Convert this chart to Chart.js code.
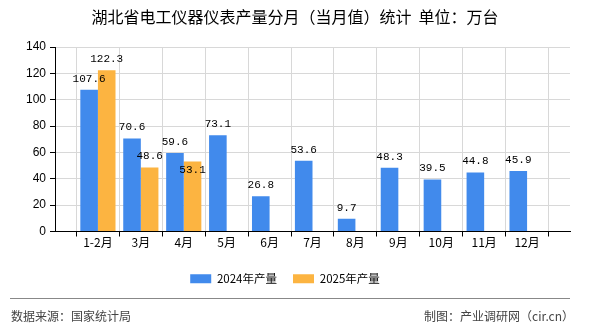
<!DOCTYPE html>
<html>
<head>
<meta charset="utf-8">
<script src="https://cdn.jsdelivr.net/npm/chart.js@4/dist/chart.umd.min.js"></script>
<style>
  html, body { margin: 0; padding: 0; background: #fff; }
  #wrap { width: 590px; height: 330px; }
</style>
</head>
<body>
<div id="wrap"><canvas id="chart" width="590" height="330"></canvas></div>
<script>
// data
const months = ['1-2月', '3月', '4月', '5月', '6月', '7月', '8月', '9月', '10月', '11月', '12月'];
const output2024 = [107.6, 70.6, 59.6, 73.1, 26.8, 53.6, 9.7, 48.3, 39.5, 44.8, 45.9];
const output2025 = [122.3, 48.6, 53.1, null, null, null, null, null, null, null, null];
const yTicks = [0, 20, 40, 60, 80, 100, 120, 140];

const titleText = '湖北省电工仪器仪表产量分月（当月值）统计  单位：万台';
const sourceText = '数据来源：国家统计局';
const creditText = '制图：产业调研网（cir.cn）';

const CJK = '"Noto Sans CJK SC", sans-serif';
const LAT = '"Liberation Sans", "Noto Sans CJK SC", sans-serif';

// months sit on x = 1..11 of a 0..12 axis, like the reference
function toPoints(arr){
  return arr.map((y, i) => ({ x: i + 1, y: y }));
}

// title + footer
const frame = {
  id: 'frame',
  afterDraw(chart){
    const c = chart.ctx;
    c.save();
    c.fillStyle = '#000';
    c.font = '16px ' + CJK;
    c.textAlign = 'center';
    c.textBaseline = 'middle';
    c.fillText(titleText, 295, 17);

    c.strokeStyle = '#888';
    c.lineWidth = 1;
    c.beginPath();
    c.moveTo(10, 298.5);
    c.lineTo(570, 298.5);
    c.stroke();

    c.fillStyle = '#444';
    c.font = '12px ' + CJK;
    c.textAlign = 'left';
    c.fillText(sourceText, 11, 316);
    c.textAlign = 'right';
    c.fillText(creditText, 574, 316);
    c.restore();
  }
};

// value labels over bars; a label that would hit its neighbour drops inside the bar
const valueLabels = {
  id: 'valueLabels',
  afterDatasetsDraw(chart){
    const c = chart.ctx;
    c.save();
    c.font = '11px "Liberation Mono", monospace';
    c.fillStyle = '#000';
    c.textAlign = 'center';
    const placed = [];
    chart.data.datasets.forEach((ds, di) => {
      const meta = chart.getDatasetMeta(di);
      meta.data.forEach((el, i) => {
        const raw = ds.data[i];
        if (!raw || raw.y == null) return;
        const txt = raw.y.toFixed(1);
        const w = c.measureText(txt).width;
        let cy = el.y - 11;
        const box = () => ({ l: el.x - w / 2, r: el.x + w / 2, t: cy - 6, b: cy + 6 });
        let b = box();
        const hit = placed.some(p => p.l < b.r && b.l < p.r && p.t < b.b && b.t < p.b);
        if (hit) { cy = el.y + 9; b = box(); }
        placed.push(b);
        c.textBaseline = 'middle';
        c.fillText(txt, el.x, cy);
      });
    });
    c.restore();
  }
};

const ctx = document.getElementById('chart');
new Chart(ctx, {
  type: 'bar',
  data: {
    datasets: [
      { label: '2024年产量', data: toPoints(output2024), backgroundColor: '#418AEC' },
      { label: '2025年产量', data: toPoints(output2025), backgroundColor: '#FCB441' }
    ]
  },
  options: {
    responsive: false,
    animation: false,
    events: [],
    categoryPercentage: 0.82,
    barPercentage: 1,
    layout: { padding: { top: 47, left: 0, right: 20, bottom: 35.5 } },
    scales: {
      x: {
        type: 'linear',
        min: 0,
        max: 12,
        offset: false,
        afterBuildTicks: s => { s.ticks = months.map((m, i) => ({ value: i + 1 })); s.ticks.unshift({ value: 0 }); s.ticks.push({ value: 12 }); },
        afterFit: s => { s.height = 25.5; },
        ticks: {
          autoSkip: false,
          maxRotation: 0,
          padding: -1,
          color: '#000',
          font: { size: 12, family: CJK },
          callback: v => months[v - 1] || ''
        },
        grid: { color: '#d8d8d8', tickColor: '#000', tickLength: 5 },
        border: { color: '#000', width: 1 }
      },
      y: {
        min: 0,
        max: 140,
        afterBuildTicks: s => { s.ticks = yTicks.map(v => ({ value: v })); },
        afterFit: s => { s.width = 55; },
        ticks: { color: '#000', padding: 4, font: { size: 12, family: LAT } },
        grid: { color: '#d8d8d8', tickColor: '#000', tickLength: 5 },
        border: { color: '#000', width: 1 }
      }
    },
    plugins: {
      title: { display: false },
      tooltip: { enabled: false },
      legend: {
        position: 'bottom',
        labels: {
          boxWidth: 21,
          boxHeight: 9,
          padding: 16,
          color: '#000',
          font: { size: 11.5, family: CJK }
        }
      }
    }
  },
  plugins: [frame, valueLabels]
});
</script>
</body>
</html>
